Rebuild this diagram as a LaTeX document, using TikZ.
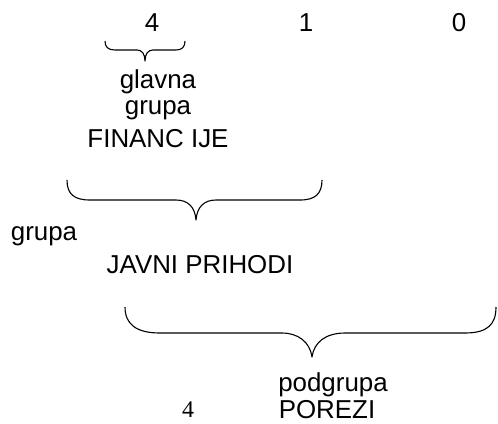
\documentclass[tikz,border=0pt]{standalone}
\usepackage{fontspec}
\setmainfont{Liberation Sans}
\newfontfamily\serifnum{Liberation Serif}
\begin{document}
\begin{tikzpicture}[x=1bp,y=-1bp,
  lbl/.style={inner sep=0pt,font=\fontsize{26}{26}\selectfont},
  brace/.style={draw=black,line width=1.1bp,line join=round}]
\useasboundingbox (0,0) rectangle (498,423);
\node[lbl] (d4) at (152,23) {4};
\node[lbl] (d1) at (306,23) {1};
\node[lbl] (d0) at (459,23) {0};
\node[lbl] (glavna) at (158,82) {glavna};
\node[lbl] (grupa1) at (158,110) {grupa};
\node[lbl] (fin) at (158,139) {FINANC IJE};
\node[lbl] (grupa2) at (44,236) {grupa};
\node[lbl] (javni) at (200,265) {JAVNI PRIHODI};
\node[lbl] (podgrupa) at (333,385) {podgrupa};
\node[lbl,font=\serifnum\fontsize{24}{24}\selectfont] (s4) at (188,410) {4};
\node[lbl] (porezi) at (327,410) {POREZI};
% small brace
\draw[brace] (105,41) .. controls (105,47) and (108,50) .. (115,50) -- (137,50)
  .. controls (142,50) and (145,54) .. (145,61)
  .. controls (145,54) and (148,50) .. (153,50) -- (176,50)
  .. controls (182,50) and (185,47) .. (185,41);
% brace 1
\draw[brace] (67,180) .. controls (67,194) and (74,200) .. (90,200) -- (176,200)
  .. controls (188,200) and (195,207) .. (196,220)
  .. controls (197,207) and (204,200) .. (216,200) -- (300,200)
  .. controls (315,200) and (322,194) .. (322,180);
% brace 2
\draw[brace] (125,307) .. controls (125,324) and (136,333) .. (160,333) -- (282,333)
  .. controls (298,333) and (310,342) .. (312,357)
  .. controls (314,342) and (326,333) .. (345,333) -- (465,333)
  .. controls (488,333) and (496,324) .. (496,307);
\end{tikzpicture}
\end{document}
